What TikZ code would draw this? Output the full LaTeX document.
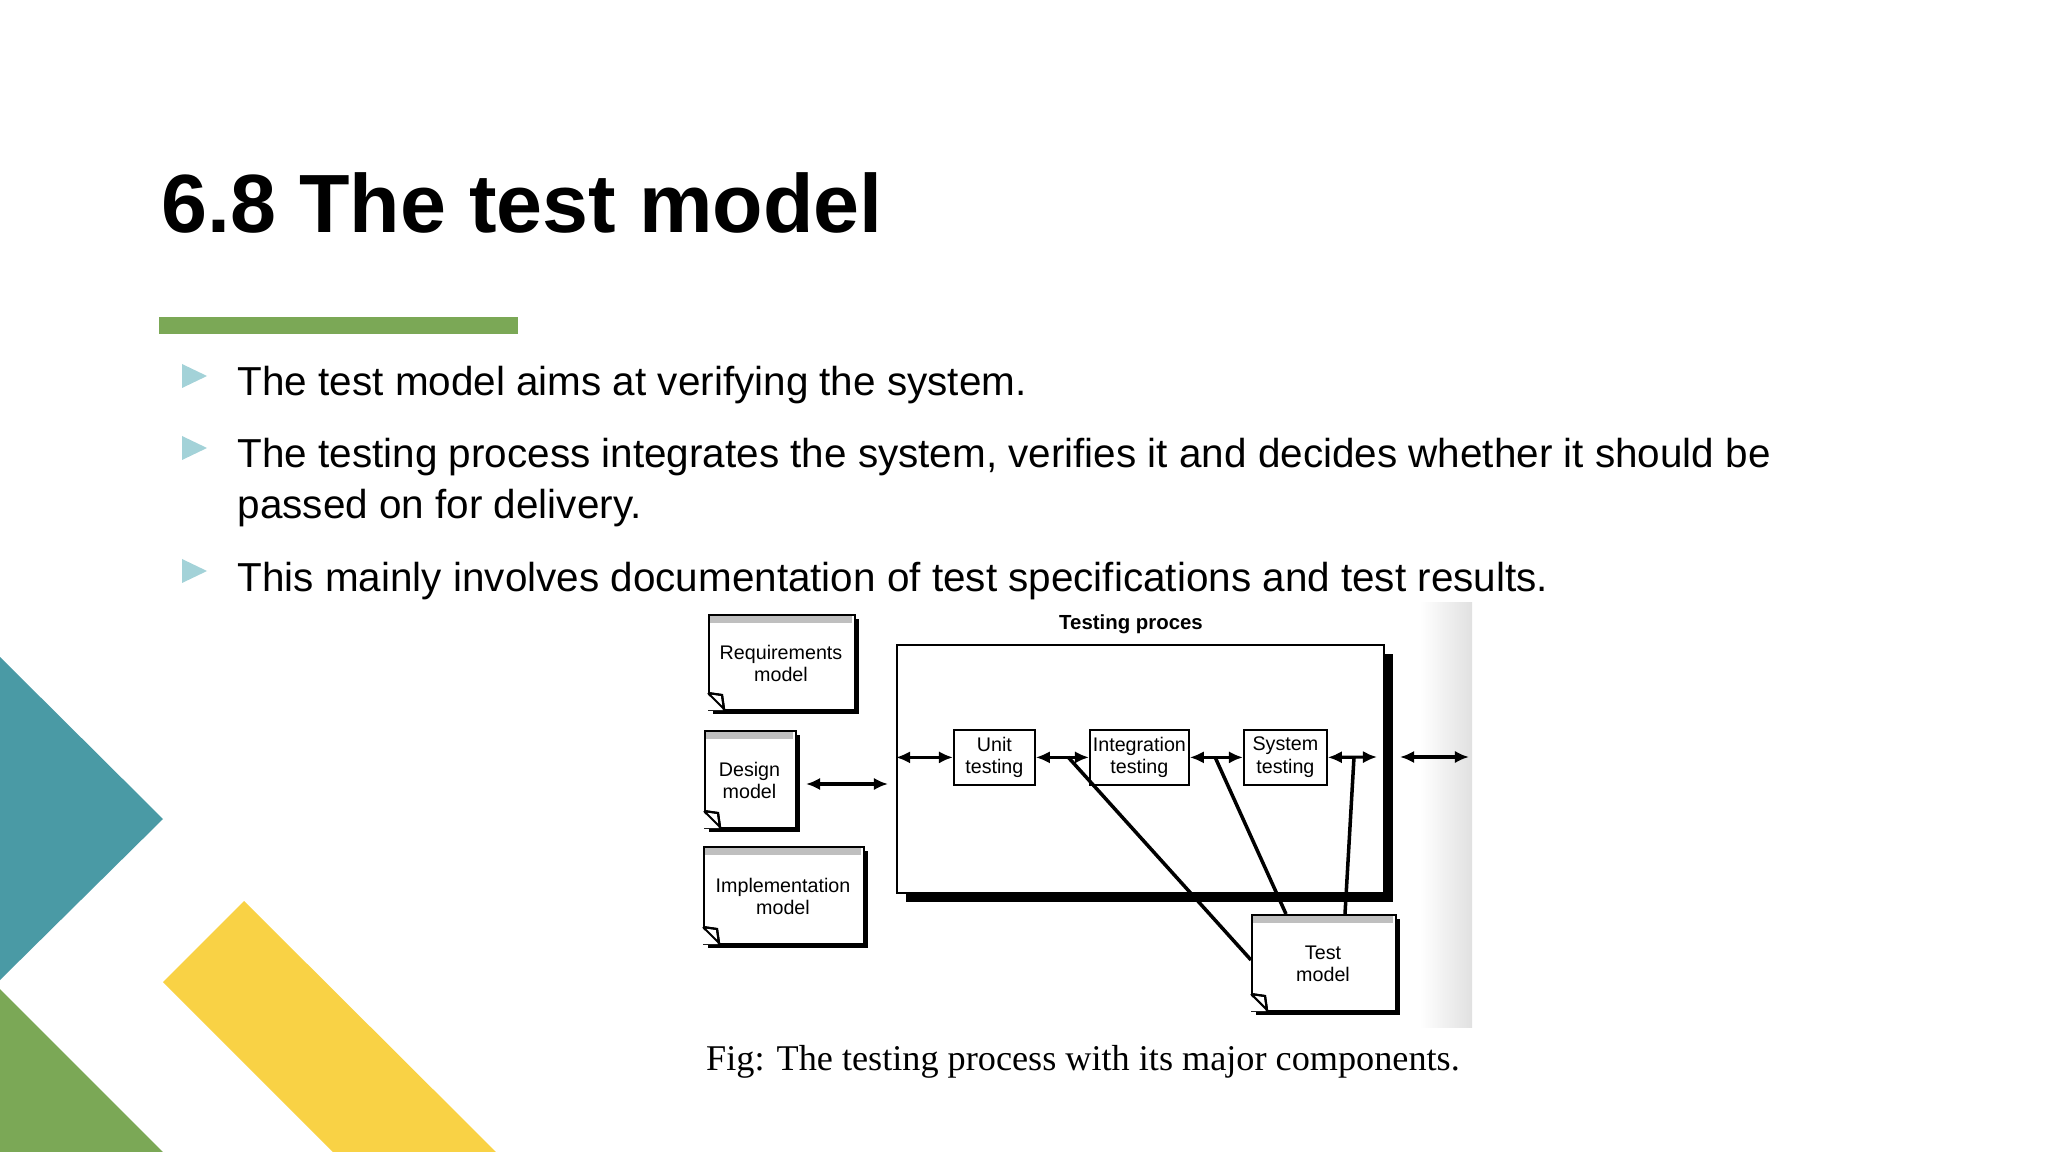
\documentclass[tikz,border=0pt]{standalone}
\usepackage{fontspec}
\setmainfont{Liberation Sans}
\newfontfamily\serifff{Liberation Serif}
\begin{document}
\begin{tikzpicture}[x=0.01cm,y=-0.01cm,
  bul/.style={fill=bulc},
  btxt/.style={anchor=base west,font=\fontsize{11.5}{14}\selectfont,inner sep=0},
  dg/.style={font=\fontsize{5.6}{6.4}\selectfont,align=center,inner sep=0},
  tbox/.style={draw,line width=0.5pt,dg,anchor=north west},
  arr/.style={line width=0.9pt,{Latex[length=4pt,width=3.5pt]}-{Latex[length=4pt,width=3.5pt]}},
  ln/.style={line width=1pt}]
\usetikzlibrary{arrows.meta}
\definecolor{bulc}{HTML}{A3D2D8}
\definecolor{tealc}{HTML}{4A9AA5}
\definecolor{greenc}{HTML}{7BA856}
\definecolor{yelc}{HTML}{F9D245}
\useasboundingbox (0,0) rectangle (2048,1152);
\fill[white] (0,0) rectangle (2048,1152);
% decorations
\fill[tealc] (0,657) -- (163,819) -- (0,980) -- cycle;
\fill[greenc] (0,989) -- (163,1152) -- (0,1152) -- cycle;
\fill[yelc] (163,982) -- (244,901) -- (496,1152) -- (333,1152) -- cycle;
% title
\node[anchor=base west,inner sep=0,font=\bfseries\fontsize{23.5}{28}\selectfont] (title) at (161,233) {6.8 The test model};
\fill[greenc] (159,317) rectangle (518,334);
% bullets
\foreach \y/\n in {385/b1,457/b2,580/b3}{
  \fill[bulc] (182,\y-21) -- (207,\y-9) -- (182,\y+3) -- cycle;}
\node[btxt] (t1) at (237,396) {The test model aims at verifying the system.};
\node[btxt] (t2) at (237,468) {The testing process integrates the system, verifies it and decides whether it should be};
\node[btxt] (t2b) at (237,519) {passed on for delivery.};
\node[btxt] (t3) at (237,591) {This mainly involves documentation of test specifications and test results.};
% image background strip
\shade[left color=white,right color=black!12] (1420,603) rectangle (1472,1027);
% big box
\fill (906,654) rectangle (1393,902);
\node[draw,fill=white,line width=0.7pt,minimum width=487*0.01cm,minimum height=248*0.01cm,anchor=north west,inner sep=0] (big) at (896,644) {};
\node[font=\bfseries\fontsize{5.8}{7}\selectfont] (lbl) at (1131,624) {Testing proces};
% documents
\newcommand\mydoc[6]{%
  \fill (#2+5,#3+5) rectangle (#4+5,#5+5);
  \node[draw,fill=white,line width=0.6pt,minimum width=(#4-#2)*0.01cm,minimum height=(#5-#3)*0.01cm,anchor=north west,inner sep=0,dg] (#1) at (#2,#3) {};
  \fill[black!25] (#2+2,#3+2) rectangle (#4-2,#3+9);
  \node[dg] (#1t) at ({(#2+#4)/2},{(#3+#5)/2+2}) {#6};
  \draw[line width=0.6pt,fill=white] (#2,#5-16) -- (#2+14,#5-14) -- (#2+16,#5) ;
  \fill[white] (#2-1,#5-15) -- (#2+15,#5+1) -- (#2-1,#5+1) -- cycle;
  \draw[line width=0.6pt] (#2,#5-16) -- (#2+14,#5-14) -- (#2+16,#5) (#2,#5-16) -- (#2+16,#5);
}
\mydoc{req}{708}{614}{854}{709}{Requirements\\model}
\mydoc{des}{704}{730}{795}{827}{Design\\model}
\mydoc{imp}{703}{846}{863}{943}{Implementation\\model}
\mydoc{tm}{1251}{914}{1395}{1010}{Test\\model}
% inner boxes
\node[tbox,minimum width=81*0.01cm,minimum height=55*0.01cm] (unit) at (953,729) {Unit\\testing};
\node[tbox,minimum width=99*0.01cm,minimum height=55*0.01cm] (int) at (1089,729) {Integration\\testing};
\node[tbox,minimum width=83*0.01cm,minimum height=55*0.01cm] (sys) at (1243,729) {System\\testing};
\coordinate (bl) at (big.west |- unit.west);
\coordinate (br) at (1377,757);
\coordinate (o1) at (1400,757);
\coordinate (o2) at (1469,757);
\coordinate (dd) at (806,784);
\coordinate (bd) at (888,784);
\draw[arr] (bl) -- (unit.west);
\draw[arr] (unit.east) -- (int.west);
\draw[arr] (int.east) -- (sys.west);
\draw[arr] (sys.east) -- (br);
\draw[arr] (o1) -- (o2);
\draw[arr] (dd) -- (bd);
\coordinate (c1) at (1068,757);
\coordinate (c2) at (1215,757);
\coordinate (c3) at (1354,757);
\draw[ln] (c1) -- (tm.west |- 0,960);
\draw[ln] (c2) -- (1286,914);
\draw[ln] (c3) -- (1345,914);
% caption
\node[font=\serifff\fontsize{10.3}{12}\selectfont] (cap) at (1083,1062) {Fig: The testing process with its major components.};
\end{tikzpicture}
\end{document}
